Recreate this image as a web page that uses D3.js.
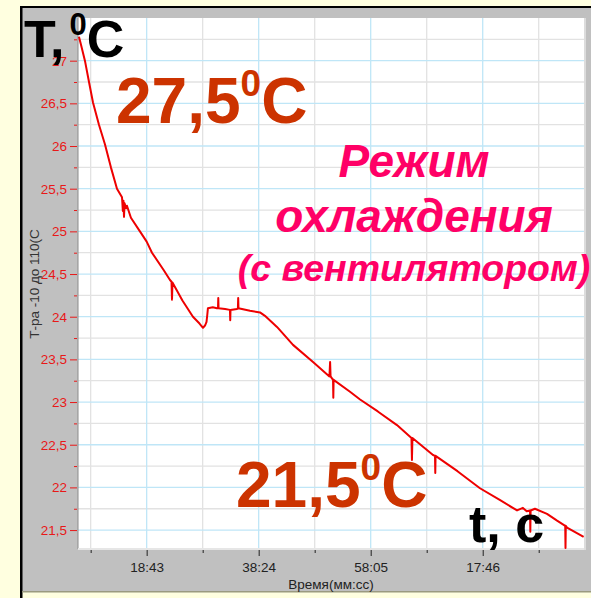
<!DOCTYPE html>
<html>
<head>
<meta charset="utf-8">
<script src="https://cdn.jsdelivr.net/npm/d3@7"></script>
<style>
  body { margin: 0; background: #ffffe0; }
  svg { display: block; }
</style>
</head>
<body>
<script>
// readings: time in seconds, temperature in °C
const curveTime = [409, 430, 472, 515, 557, 620, 683, 746, 810, 863, 872, 878, 884, 890, 905, 915, 957, 1052, 1123, 1179, 1300, 1369,
  1385, 1390, 1395, 1500, 1611, 1680, 1717, 1740, 1754, 1762, 1769, 1820, 1864, 1875, 1878, 1881, 1950,
  2001, 2004, 2007, 2075, 2085, 2088, 2091, 2212, 2318, 2370, 2497, 2666, 2877, 3050, 3057, 3062,
  3088, 3091, 3094, 3267, 3373, 3560, 3762, 3915, 3920, 3925, 4142, 4163, 4166, 4169, 4400, 4637, 4850, 5028,
  5090, 5130, 5165, 5168, 5171, 5217, 5344, 5450, 5536, 5539, 5542, 5555, 5650, 5730];
const curveTemp = [27.28, 27.19, 27.00, 26.75, 26.51, 26.25, 26.02, 25.75, 25.50, 25.40, 25.24, 25.36, 25.17, 25.33, 25.27, 25.30, 25.16, 25.00, 24.88, 24.75, 24.55, 24.43,
  24.41, 24.20, 24.40, 24.19, 24.00, 23.92, 23.87, 23.90, 23.94, 24.02, 24.10, 24.11, 24.10, 24.10, 24.22, 24.10, 24.09,
  24.08, 23.96, 24.08, 24.09, 24.10, 24.22, 24.10, 24.07, 24.05, 24.01, 23.88, 23.67, 23.47, 23.30, 23.47, 23.30,
  23.26, 23.05, 23.26, 23.12, 23.03, 22.89, 22.73, 22.58, 22.32, 22.58, 22.38, 22.37, 22.17, 22.37, 22.19, 21.99, 21.85, 21.73,
  21.76, 21.72, 21.73, 21.48, 21.73, 21.75, 21.69, 21.61, 21.55, 21.29, 21.55, 21.53, 21.47, 21.42];

const yMajorTicks = [21.5, 22, 22.5, 23, 23.5, 24, 24.5, 25, 25.5, 26, 26.5, 27];
const yMinorTicks = [21.75, 22.25, 22.75, 23.25, 23.75, 24.25, 24.75, 25.25, 25.75, 26.25, 26.75, 27.25];
const xMajorTicks = [1123, 2304, 3485, 4666];
const xTickLabels = ["18:43", "38:24", "58:05", "17:46"];
const xMinorTicks = [532.5, 1713.5, 2894.5, 4075.5, 5256.5];

const W = 591, H = 598;
const FONT = "Arial, 'Liberation Sans', sans-serif";

const svg = d3.select("body").append("svg")
  .attr("width", W)
  .attr("height", H);

// Background + window frame
svg.append("rect").attr("width", W).attr("height", H).attr("fill", "#ffffe0");
svg.append("rect").attr("x", 22).attr("y", 8).attr("width", W - 22).attr("height", 584).attr("fill", "#c0c0c0");
svg.append("rect").attr("x", 20).attr("y", 6).attr("width", W - 20).attr("height", 2).attr("fill", "#000");
svg.append("rect").attr("x", 20).attr("y", 6).attr("width", 2.5).attr("height", H - 6).attr("fill", "#000");
svg.append("rect").attr("x", 22).attr("y", 591).attr("width", W - 22).attr("height", 1.5).attr("fill", "#9a9a80");

const x = d3.scaleLinear().domain([399, 5734]).range([78, 584]);
const y = d3.scaleLinear().domain([21.29, 27.5]).range([548, 18]);

// Plot area
svg.append("rect")
  .attr("x", 78).attr("y", 18)
  .attr("width", 506).attr("height", 530)
  .attr("fill", "#fff");

// Grid
const grid = svg.append("g");
grid.selectAll(".hmin").data(yMinorTicks).join("line")
  .attr("x1", 78).attr("x2", 584)
  .attr("y1", d => y(d)).attr("y2", d => y(d))
  .attr("stroke", "#e2e2e2").attr("stroke-width", 1.3);
grid.selectAll(".vmin").data(xMinorTicks).join("line")
  .attr("x1", d => x(d)).attr("x2", d => x(d))
  .attr("y1", 18).attr("y2", 548)
  .attr("stroke", "#e2e2e2").attr("stroke-width", 1.3);
grid.selectAll(".hmaj").data(yMajorTicks).join("line")
  .attr("x1", 78).attr("x2", 584)
  .attr("y1", d => y(d)).attr("y2", d => y(d))
  .attr("stroke", "#bfe6f7").attr("stroke-width", 1.3);
grid.selectAll(".vmaj").data(xMajorTicks).join("line")
  .attr("x1", d => x(d)).attr("x2", d => x(d))
  .attr("y1", 18).attr("y2", 548)
  .attr("stroke", "#bfe6f7").attr("stroke-width", 1.3);

// Plot border
svg.append("line").attr("x1", 78).attr("x2", 78).attr("y1", 18).attr("y2", 549)
  .attr("stroke", "#8c8c8c").attr("stroke-width", 1);
svg.append("line").attr("x1", 78).attr("x2", 585).attr("y1", 549).attr("y2", 549)
  .attr("stroke", "#e6e6e6").attr("stroke-width", 2);
svg.append("line").attr("x1", 585).attr("x2", 585).attr("y1", 18).attr("y2", 550)
  .attr("stroke", "#dcdcdc").attr("stroke-width", 2);

// Temperature trace
const points = curveTime.map((t, i) => [t, curveTemp[i]]);
svg.append("path")
  .datum(points)
  .attr("fill", "none")
  .attr("stroke", "#ee0000")
  .attr("stroke-width", 2)
  .attr("stroke-linejoin", "round")
  .attr("d", d3.line().x(d => x(d[0])).y(d => y(d[1])));

// Y axis
const yAxis = svg.append("g")
  .attr("transform", "translate(77,0)")
  .call(d3.axisLeft(y).tickValues(yMajorTicks).tickSize(7).tickPadding(3)
    .tickFormat(d => String(d).replace(".", ",")));
yAxis.select(".domain").remove();
yAxis.selectAll("line").attr("stroke", "#e81818");
yAxis.selectAll("text").attr("fill", "#e81818").attr("font-size", 13.5).attr("font-family", FONT);

const yMinor = svg.append("g")
  .attr("transform", "translate(77,0)")
  .call(d3.axisLeft(y).tickValues(yMinorTicks).tickSize(3).tickFormat(""));
yMinor.select(".domain").remove();
yMinor.selectAll("line").attr("stroke", "#e81818");

// X axis
const xAxis = svg.append("g")
  .attr("transform", "translate(0,550)")
  .call(d3.axisBottom(x).tickValues(xMajorTicks).tickSize(6).tickPadding(6)
    .tickFormat((d, i) => xTickLabels[i]));
xAxis.select(".domain").remove();
xAxis.selectAll("line").attr("stroke", "#222");
xAxis.selectAll("text").attr("fill", "#222").attr("font-size", 13.5).attr("font-family", FONT);

const xMinor = svg.append("g")
  .attr("transform", "translate(0,550)")
  .call(d3.axisBottom(x).tickValues(xMinorTicks).tickSize(3).tickFormat(""));
xMinor.select(".domain").remove();
xMinor.selectAll("line").attr("stroke", "#222");

// Axis titles
svg.append("text")
  .attr("x", 331).attr("y", 589)
  .attr("text-anchor", "middle")
  .attr("font-family", FONT).attr("font-size", 13.5).attr("fill", "#222")
  .text("Время(мм:сс)");

svg.append("text")
  .attr("transform", "translate(39,284) rotate(-90)")
  .attr("text-anchor", "middle")
  .attr("font-family", FONT).attr("font-size", 13.5).attr("fill", "#333")
  .text("Т-ра -10 до 110(С");

// Big annotations
function degreeLabel(px, py, big, small, lead, rest, color, gap) {
  const t = svg.append("text")
    .attr("x", px).attr("y", py)
    .attr("font-family", FONT).attr("font-weight", "bold").attr("fill", color);
  t.append("tspan").attr("font-size", big).text(lead);
  t.append("tspan").attr("font-size", small).attr("dx", gap).attr("dy", -big * 0.42).text("0");
  t.append("tspan").attr("font-size", big).attr("dy", big * 0.42).text(rest);
}

degreeLabel(24, 57, 52, 31, "T,", "C", "#000", 5);
degreeLabel(116, 123, 64, 37, "27,5", "C", "#cc3300", 0);
degreeLabel(236, 507, 64, 37, "21,5", "C", "#cc3300", 0);

svg.append("text")
  .attr("x", 469).attr("y", 542)
  .attr("font-family", FONT).attr("font-weight", "bold").attr("font-size", 52)
  .attr("fill", "#000")
  .attr("xml:space", "preserve")
  .text("t, c");

const modeLines = [
  { text: "Режим", y: 177, size: 46 },
  { text: "охлаждения", y: 232, size: 46 },
  { text: "(с вентилятором)", y: 281, size: 37.5 }
];
svg.selectAll(".mode").data(modeLines).join("text")
  .attr("x", 414).attr("y", d => d.y)
  .attr("text-anchor", "middle")
  .attr("font-family", FONT).attr("font-weight", "bold").attr("font-style", "italic")
  .attr("font-size", d => d.size)
  .attr("fill", "#ff0066")
  .text(d => d.text);
</script>
</body>
</html>
